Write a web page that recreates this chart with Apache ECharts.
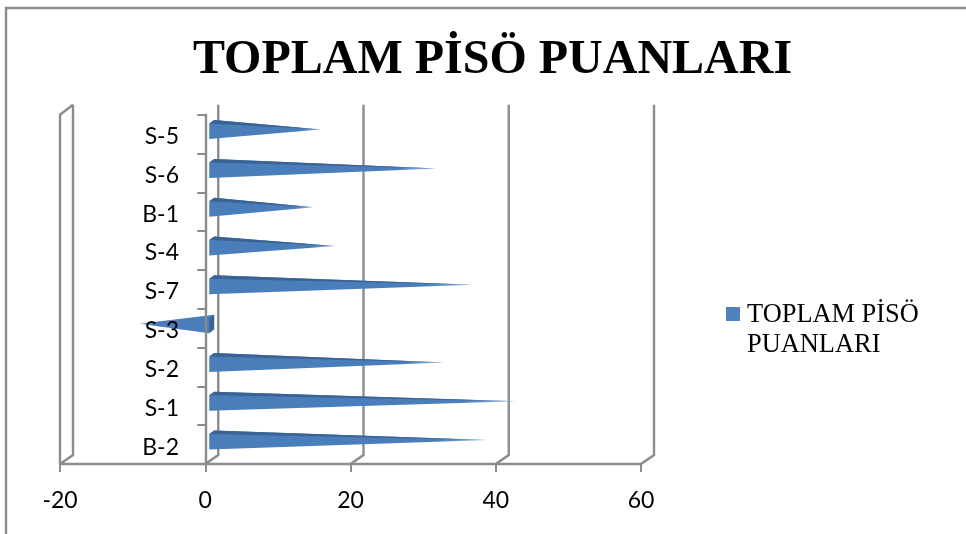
<!DOCTYPE html>
<html>
<head>
<meta charset="utf-8">
<style>html,body{margin:0;padding:0;background:#fff}#chart{width:966px;height:534px}</style>
<script src="https://cdn.jsdelivr.net/npm/echarts@6/dist/echarts.min.js"></script>
</head>
<body>
<div id="chart"></div>
<script>
const chartTitle = 'TOPLAM PİSÖ PUANLARI';
const seriesName = 'TOPLAM PİSÖ PUANLARI';
const legendLines = ['TOPLAM PİSÖ', 'PUANLARI'];
const categories = ['B-2', 'S-1', 'S-2', 'S-3', 'S-7', 'S-4', 'B-1', 'S-6', 'S-5'];
const scores = [38, 42, 32, -10, 36, 17, 14, 31, 15];
const wallTicks = [-20, 0, 20, 40, 60];

const GRID_COLOR = '#8c8c8c';
const DEPTH_X = 13, DEPTH_Y = 9;

// Back-wall gridlines of the pseudo-3D plot box, one per value tick
function renderWall(params, api) {
  const cs = params.coordSys;
  const x = api.coord([api.value(0), 0])[0];
  const floor = cs.y + cs.height, top = cs.y;
  const pts = [[x, floor], [x + DEPTH_X, floor - DEPTH_Y], [x + DEPTH_X, top - DEPTH_Y - 1]];
  const style = { stroke: GRID_COLOR, lineWidth: 2.4, fill: 'none' };
  const children = [{ type: 'polyline', shape: { points: pts }, style }];
  if (params.dataIndex === 0) {
    children.push({
      type: 'polyline',
      shape: { points: [[x, floor], [x, top], [x + DEPTH_X, top - DEPTH_Y - 1]] },
      style
    });
  }
  return { type: 'group', children };
}

// Horizontal cone: a light front face plus a dark sliver for the top (or end cap when negative)
function renderCone(params, api) {
  const v = api.value(0);
  const p = api.coord([v, api.value(1)]);
  const zero = api.coord([0, api.value(1)])[0];
  const c = p[1];
  const tip = [p[0] + 6.5, c - 4.5];
  const light = '#4a7ebb', dark = '#3a6393';
  if (v >= 0) {
    const grad = new echarts.graphic.LinearGradient(0, 0, 1, 0, [
      { offset: 0, color: light }, { offset: 0.82, color: light }, { offset: 1, color: '#9db9dc' }
    ]);
    return {
      type: 'group',
      children: [
        { type: 'polygon', shape: { points: [[zero + 4, c - 10.5], [zero + 9, c - 14], tip, [zero + 4, c + 5]] }, style: { fill: grad } },
        { type: 'polygon', shape: { points: [[zero + 4, c - 10.5], [zero + 9, c - 14], tip] }, style: { fill: dark } }
      ]
    };
  }
  const grad = new echarts.graphic.LinearGradient(0, 0, 1, 0, [
    { offset: 0, color: '#9db9dc' }, { offset: 0.18, color: light }, { offset: 1, color: light }
  ]);
  return {
    type: 'group',
    children: [
      { type: 'polygon', shape: { points: [tip, [zero + 9, c - 13.5], [zero + 4, c + 5]] }, style: { fill: grad } },
      { type: 'polygon', shape: { points: [[zero + 4, c - 9.5], [zero + 9, c - 13.5], [zero + 9, c + 1], [zero + 4, c + 5]] }, style: { fill: dark } }
    ]
  };
}

const chart = echarts.init(document.getElementById('chart'), null, { renderer: 'canvas' });
chart.setOption({
  animation: false,
  backgroundColor: '#fff',
  title: {
    text: chartTitle,
    left: 487.5,
    top: 32,
    textAlign: 'center',
    textStyle: { fontFamily: 'Liberation Serif', fontWeight: 'bold', fontSize: 48, color: '#000' }
  },
  legend: {
    left: 726,
    top: 298,
    padding: 0,
    data: [seriesName],
    selectedMode: false,
    itemWidth: 16,
    itemHeight: 46,
    // square sits beside the first text line; the stray point keeps the icon box tall
    icon: 'path://M0,0H14V14H0Z M16,46L16,46',
    formatter: () => legendLines.join('\n'),
    textStyle: { fontFamily: 'Liberation Serif', fontSize: 26.4, lineHeight: 30, color: '#000', padding: [4, 0, 0, 0] }
  },
  grid: { left: 60, top: 114.7, width: 581, height: 349.3, outerBoundsMode: 'none' },
  xAxis: {
    type: 'value',
    min: -20,
    max: 60,
    interval: 20,
    splitLine: { show: false },
    axisLine: { show: true, lineStyle: { color: GRID_COLOR, width: 2.4 } },
    axisTick: { show: true, length: 8, lineStyle: { color: GRID_COLOR, width: 2 } },
    axisLabel: { margin: 25, fontFamily: 'Lato', fontSize: 23, color: '#000' }
  },
  yAxis: {
    type: 'category',
    data: categories,
    z: 4,
    axisLine: { show: true, onZero: true, lineStyle: { color: GRID_COLOR, width: 2.4 } },
    axisTick: { show: true, length: 8, lineStyle: { color: GRID_COLOR, width: 2 } },
    // labels sit a little below the band centre
    axisLabel: { margin: -119, interval: 0, verticalAlign: 'top', lineHeight: 5, fontFamily: 'Lato', fontSize: 23, color: '#000' }
  },
  series: [
    {
      type: 'custom',
      name: 'walls',
      silent: true,
      z: 1,
      renderItem: renderWall,
      encode: { x: 0 },
      data: wallTicks.map(t => [t, 0])
    },
    {
      type: 'custom',
      name: seriesName,
      z: 2,
      itemStyle: { color: '#4f81bd' },
      renderItem: renderCone,
      encode: { x: 0, y: 1 },
      data: scores.map((s, i) => [s, i])
    }
  ],
  graphic: [
    {
      type: 'polyline',
      silent: true,
      shape: { points: [[6, 534], [6, 8], [966, 8]] },
      style: { stroke: '#8c8c8c', lineWidth: 2.4, fill: 'none' }
    }
  ]
});
</script>
</body>
</html>
